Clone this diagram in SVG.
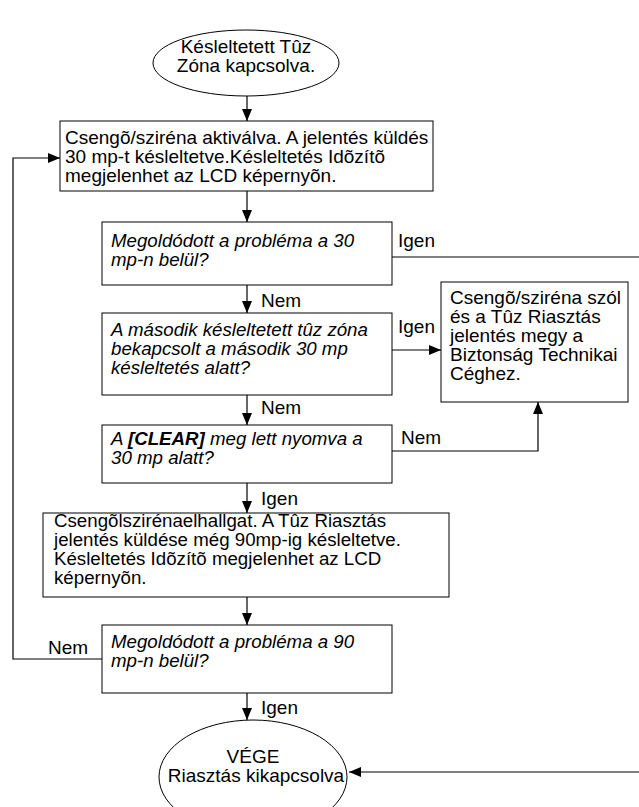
<svg xmlns="http://www.w3.org/2000/svg" width="639" height="807" viewBox="0 0 639 807">
<defs>
<marker id="ah" viewBox="0 0 12 10" refX="12" refY="5" markerWidth="12" markerHeight="10" markerUnits="userSpaceOnUse" orient="auto">
<path d="M0,0 L12,5 L0,10 z" fill="#000"/>
</marker>
<style>
.sh{fill:#fff;stroke:#000;stroke-width:1}
.t{font-family:"Liberation Sans",Arial,sans-serif;font-size:19px;fill:#000}
.i{font-style:italic;font-size:18.7px}
.s{font-size:18.7px}
.c{text-anchor:middle}
.ln{fill:none;stroke:#000;stroke-width:1.2}
.ar{marker-end:url(#ah)}
</style>
</defs>
<rect width="639" height="807" fill="#fff"/>
<g id="connectors">
<line class="ln ar" x1="247" y1="96" x2="247" y2="121"/>
<line class="ln ar" x1="247" y1="191" x2="247" y2="222"/>
<line class="ln ar" x1="247" y1="285" x2="247" y2="313"/>
<polyline class="ln" points="392,257 639,257"/>
<line class="ln ar" x1="392" y1="350" x2="441" y2="350"/>
<line class="ln ar" x1="247" y1="395" x2="247" y2="425"/>
<polyline class="ln ar" points="392,451 538,451 538,402"/>
<line class="ln ar" x1="247" y1="483" x2="247" y2="513"/>
<line class="ln ar" x1="247" y1="597" x2="247" y2="625"/>
<polyline class="ln ar" points="102,659 13,659 13,158 60,158"/>
<line class="ln ar" x1="247" y1="693" x2="247" y2="720"/>
<line class="ln ar" x1="639" y1="772" x2="349" y2="772"/>
<text class="t" x="398" y="247">Igen</text>
<text class="t" x="261" y="307">Nem</text>
<text class="t" x="398" y="333">Igen</text>
<text class="t" x="261" y="414">Nem</text>
<text class="t" x="401" y="444">Nem</text>
<text class="t" x="261" y="505">Igen</text>
<text class="t" x="48" y="654">Nem</text>
<text class="t" x="261" y="714">Igen</text>
</g>
<g id="start">
<ellipse class="sh" cx="246" cy="63" rx="93" ry="33"/>
<text class="t c" x="246" y="53">Késleltetett Tûz</text>
<text class="t c" x="246" y="72">Zóna kapcsolva.</text>
</g>
<g id="box1">
<rect class="sh" x="60" y="121" width="373" height="70"/>
<text class="t" x="65" y="144">Csengõ/sziréna aktiválva. A jelentés küldés</text>
<text class="t" x="65" y="163">30 mp-t késleltetve.Késleltetés Idõzítõ</text>
<text class="t" x="65" y="182">megjelenhet az LCD képernyõn.</text>
</g>
<g id="dec1">
<rect class="sh" x="102" y="222" width="290" height="63"/>
<text class="t i" x="111" y="247">Megoldódott a probléma a 30</text>
<text class="t i" x="111" y="266">mp-n belül?</text>
</g>
<g id="dec2">
<rect class="sh" x="102" y="313" width="290" height="82"/>
<text class="t i" x="111" y="336">A második késleltetett tûz zóna</text>
<text class="t i" x="111" y="355">bekapcsolt a második 30 mp</text>
<text class="t i" x="111" y="374">késleltetés alatt?</text>
</g>
<g id="boxR">
<rect class="sh" x="441" y="282" width="187" height="120"/>
<text class="t" x="450" y="304">Csengõ/sziréna szól</text>
<text class="t" x="450" y="323">és a Tûz Riasztás</text>
<text class="t" x="450" y="342">jelentés megy a</text>
<text class="t" x="450" y="361">Biztonság Technikai</text>
<text class="t" x="450" y="380">Céghez.</text>
</g>
<g id="dec3">
<rect class="sh" x="102" y="425" width="290" height="58"/>
<text class="t i" x="111" y="445">A <tspan font-weight="bold">[CLEAR]</tspan> meg lett nyomva a</text>
<text class="t i" x="111" y="464">30 mp alatt?</text>
</g>
<g id="box4">
<rect class="sh" x="43" y="513" width="406" height="84"/>
<text class="t s" x="54" y="527">Csengõlszirénaelhallgat. A Tûz Riasztás</text>
<text class="t s" x="54" y="546">jelentés küldése még 90mp-ig késleltetve.</text>
<text class="t s" x="54" y="565">Késleltetés Idõzítõ megjelenhet az LCD</text>
<text class="t s" x="54" y="584">képernyõn.</text>
</g>
<g id="dec5">
<rect class="sh" x="102" y="625" width="290" height="68"/>
<text class="t i" x="111" y="648">Megoldódott a probléma a 90</text>
<text class="t i" x="111" y="667">mp-n belül?</text>
</g>
<g id="end">
<ellipse class="sh" cx="253" cy="777" rx="94" ry="57"/>
<text class="t c" x="253" y="763">VÉGE</text>
<text class="t c" x="256" y="782">Riasztás kikapcsolva</text>
</g>
</svg>
